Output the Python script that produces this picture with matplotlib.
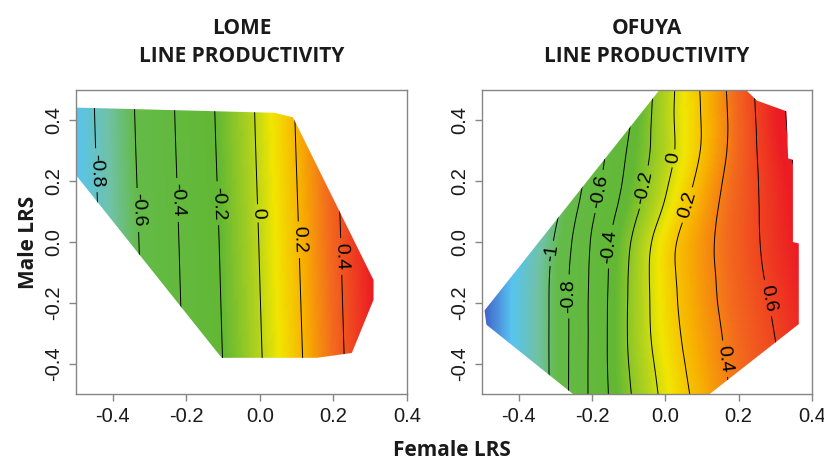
import numpy as np
import matplotlib
matplotlib.use("Agg")
import matplotlib.pyplot as plt
import matplotlib.tri as mtri
from matplotlib.colors import LinearSegmentedColormap, Normalize
from matplotlib.patches import Polygon
from matplotlib.ticker import FormatStrFormatter

plt.rcParams['axes.unicode_minus'] = False
plt.rcParams['contour.negative_linestyle'] = 'solid'

# ---------------- data ----------------
GRID_X = [-0.5, -0.4, -0.3, -0.2, -0.1, 0.0, 0.1, 0.2, 0.3, 0.4]

LOME_Y = [-0.5, 0.0, 0.5]
LOME_Z = [
    [-0.938, -0.754, -0.571, -0.387, -0.204, -0.018, 0.165, 0.342, 0.517, 0.690],
    [-0.914, -0.730, -0.547, -0.363, -0.180, 0.006, 0.189, 0.365, 0.540, 0.710],
    [-0.890, -0.706, -0.523, -0.339, -0.156, 0.029, 0.212, 0.388, 0.560, 0.730],
]
LOME_LEVELS = [-0.8, -0.6, -0.4, -0.2, 0.0, 0.2, 0.4]
LOME_HULL_X = [-0.5, -0.43, 0.04, 0.09, 0.309, 0.309, 0.25, 0.155, -0.104, -0.5]
LOME_HULL_Y = [0.442, 0.44, 0.425, 0.41, -0.125, -0.19, -0.365, -0.381, -0.381, 0.22]

OFUYA_Y = [-0.5, -0.4, -0.3, -0.2, -0.1, 0.0, 0.1, 0.2, 0.3, 0.4, 0.5]
OFUYA_Z = [
    [-1.61, -1.29, -0.936, -0.559, -0.222, 0.049, 0.267, 0.434, 0.572, 0.694],
    [-1.61, -1.29, -0.936, -0.558, -0.200, 0.077, 0.293, 0.453, 0.587, 0.713],
    [-1.61, -1.29, -0.936, -0.560, -0.188, 0.105, 0.312, 0.468, 0.604, 0.735],
    [-1.61, -1.29, -0.936, -0.560, -0.190, 0.119, 0.330, 0.486, 0.624, 0.760],
    [-1.61, -1.30, -0.942, -0.567, -0.196, 0.130, 0.339, 0.500, 0.647, 0.786],
    [-1.64, -1.33, -0.978, -0.582, -0.221, 0.118, 0.341, 0.509, 0.664, 0.815],
    [-1.69, -1.385, -1.044, -0.636, -0.288, 0.036, 0.308, 0.505, 0.674, 0.842],
    [-1.74, -1.44, -1.11, -0.700, -0.345, -0.032, 0.261, 0.495, 0.686, 0.876],
    [-1.79, -1.49, -1.18, -0.754, -0.381, -0.075, 0.214, 0.482, 0.711, 0.933],
    [-1.86, -1.56, -1.26, -0.822, -0.422, -0.073, 0.208, 0.480, 0.729, 0.965],
    [-1.92, -1.63, -1.32, -0.900, -0.460, -0.082, 0.217, 0.490, 0.739, 0.970],
]
OFUYA_LEVELS = [-1.0, -0.8, -0.6, -0.4, -0.2, 0.0, 0.2, 0.4, 0.6, 0.8]
OFUYA_HULL_X = [-0.016, 0.22, 0.25, 0.33, 0.335, 0.348, 0.348, 0.364, 0.364,
                0.121, -0.252, -0.488, -0.493]
OFUYA_HULL_Y = [0.5, 0.5, 0.465, 0.43, 0.275, 0.27, 0.0, -0.005, -0.27,
                -0.5, -0.5, -0.272, -0.225]

TICKS = [-0.4, -0.2, 0.0, 0.2, 0.4]
TITLES = [("LOME", "LINE PRODUCTIVITY"), ("OFUYA", "LINE PRODUCTIVITY")]

# ---------------- style / layout ----------------
RAMP = [(0.00, "#3b4cc0"), (0.12, "#58c4f0"), (0.22, "#70c2a6"), (0.30, "#64bb48"),
        (0.55, "#62b834"), (0.66, "#b5d41c"), (0.72, "#f2e600"), (0.80, "#f8b000"),
        (0.88, "#f36a1e"), (1.00, "#ec1c24")]
CMAP = LinearSegmentedColormap.from_list("ramp", RAMP)

LOME_LABEL_POS = [(-0.45, 0.236), (-0.336, 0.105), (-0.227, 0.138), (-0.123, 0.127),
                  (-0.014, 0.094), (0.095, 0.007), (0.209, -0.048)]
OFUYA_LABEL_POS = [(-0.311, -0.037), (-0.266, -0.179), (-0.179, 0.166), (-0.152, -0.015),
                   (-0.056, 0.18), (0.023, 0.275), (0.066, 0.12), (0.155, -0.385),
                   (0.28, -0.185)]

W, H = 824, 462
fig = plt.figure(figsize=(W / 100, H / 100), dpi=100)

TICK_FONT = ['Liberation Sans Narrow', 'Liberation Sans', 'DejaVu Sans']
BOLD_FONT = ['Open Sans', 'DejaVu Sans']
GRAY = '#858585'


def fmt(v):
    return f"{v:g}"


def panel(ax, gy, gz, levels, hx, hy, vmin, vmax, label_pos):
    X, Y = np.meshgrid(GRID_X, gy)
    tri = mtri.Triangulation(X.ravel(), Y.ravel())
    interp = mtri.CubicTriInterpolator(tri, np.asarray(gz, float).ravel(), kind='min_E')
    xi = np.linspace(GRID_X[0], GRID_X[-1], 271)
    yi = np.linspace(gy[0], gy[-1], 301)
    XI, YI = np.meshgrid(xi, yi)
    ZI = interp(XI, YI)
    hull = Polygon(np.column_stack([hx, hy]), closed=True, transform=ax.transData,
                   facecolor='none', edgecolor='none')
    im = ax.imshow(ZI, extent=(xi[0], xi[-1], yi[0], yi[-1]), origin='lower',
                   cmap=CMAP, norm=Normalize(vmin, vmax), aspect='auto',
                   interpolation='bilinear')
    im.set_clip_path(hull)
    cs = ax.contour(XI, YI, ZI, levels=levels, colors='black', linewidths=0.7,
                    linestyles='solid')
    ax.clabel(cs, manual=label_pos, inline=True, inline_spacing=3, fontsize=14,
              fmt=fmt)
    for t in cs.labelTexts:
        t.set_fontfamily(TICK_FONT)
    cs.set_clip_path(hull)
    ax.set_xlim(-0.5, 0.4)
    ax.set_ylim(-0.5, 0.5)
    ax.set_xticks(TICKS)
    ax.set_yticks(TICKS)
    ax.xaxis.set_major_formatter(FormatStrFormatter('%.1f'))
    ax.yaxis.set_major_formatter(FormatStrFormatter('%.1f'))
    for s in ax.spines.values():
        s.set_color(GRAY)
        s.set_linewidth(1.0)
    ax.tick_params(direction='out', length=5, width=1, color=GRAY, labelsize=14.5,
                   labelcolor='#1a1a1a', pad=4)
    for lab in ax.get_xticklabels() + ax.get_yticklabels():
        lab.set_fontfamily(TICK_FONT)
    for lab in ax.get_yticklabels():
        lab.set_rotation(90)
        lab.set_va('center')
        lab.set_ha('right')


axL = fig.add_axes([76 / W, 1 - 394 / H, 331 / W, 304 / H])
axR = fig.add_axes([482 / W, 1 - 394 / H, 330 / W, 304 / H])

panel(axL, LOME_Y, LOME_Z, LOME_LEVELS, LOME_HULL_X, LOME_HULL_Y, -1.10, 0.55,
      LOME_LABEL_POS)
panel(axR, OFUYA_Y, OFUYA_Z, OFUYA_LEVELS, OFUYA_HULL_X, OFUYA_HULL_Y, -1.65, 0.75,
      OFUYA_LABEL_POS)

for (t1, t2), cx in zip(TITLES, [241.5 / W, 647 / W]):
    fig.text(cx, 1 - 28 / H, t1, ha='center', va='center', fontsize=15,
             fontweight='bold', family=BOLD_FONT, color='#1a1a1a')
    fig.text(cx, 1 - 57 / H, t2, ha='center', va='center', fontsize=15,
             fontweight='bold', family=BOLD_FONT, color='#1a1a1a')

fig.text(28 / W, 1 - 242 / H, "Male LRS", rotation=90, ha='center', va='center',
         fontsize=15, fontweight='bold', family=BOLD_FONT, color='#1a1a1a')
fig.text(452 / W, 1 - 450 / H, "Female LRS", ha='center', va='center',
         fontsize=15, fontweight='bold', family=BOLD_FONT, color='#1a1a1a')

fig.savefig("out.png", dpi=100)
